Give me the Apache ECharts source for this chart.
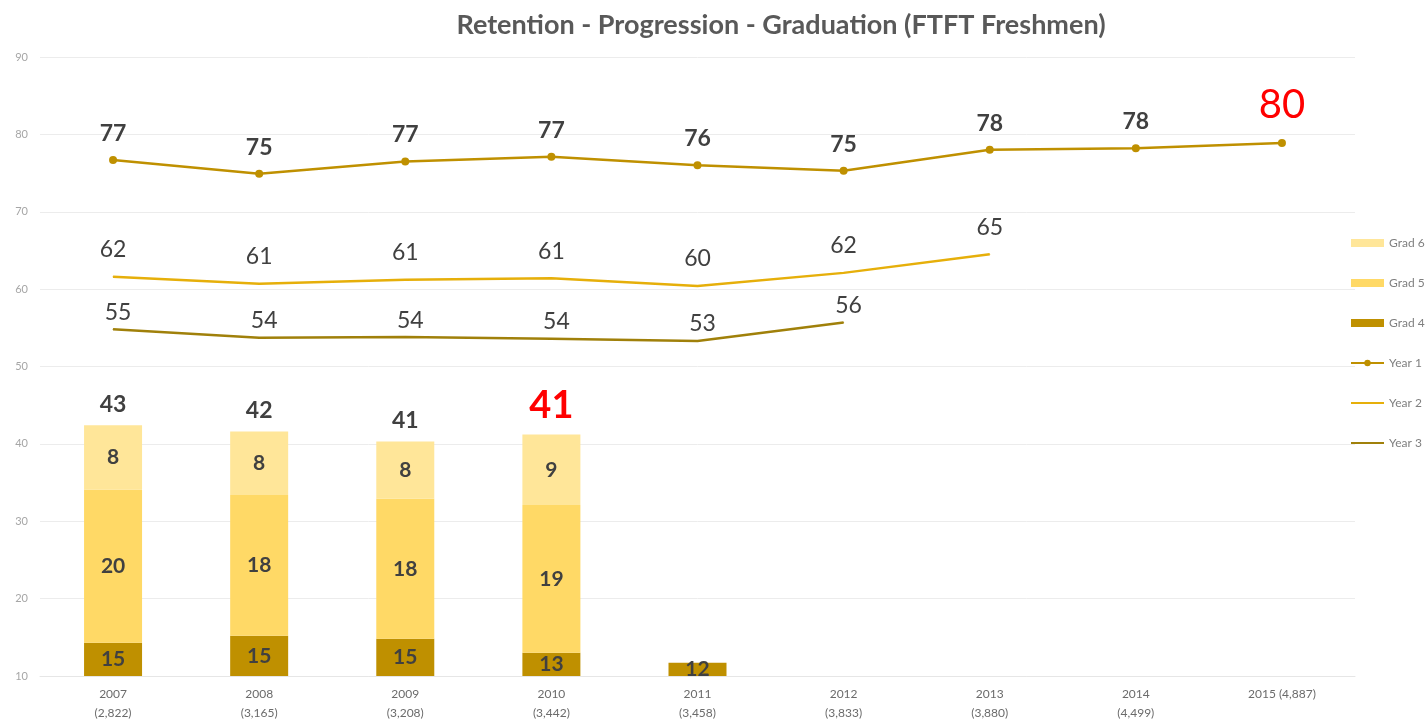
<!DOCTYPE html>
<html>
<head>
<meta charset="utf-8">
<script src="https://cdn.jsdelivr.net/npm/echarts@6/dist/echarts.min.js"></script>
<style>
	html, body { margin: 0; padding: 0; background: #fff; }
	#chart { width: 1428px; height: 723px; }
</style>
</head>
<body>
<div id="chart"></div>
<script>
// 类目（年份 + 人数）
var years = ['2007\n(2,822)', '2008\n(3,165)', '2009\n(3,208)', '2010\n(3,442)', '2011\n(3,458)',
	'2012\n(3,833)', '2013\n(3,880)', '2014\n(4,499)', '2015 (4,887)'];

// 毕业率 柱子
var grad4 = [14.3, 15.2, 14.8, 13.0, 11.7];
var grad5 = [19.8, 18.2, 18.1, 19.1];
var grad6 = [8.3, 8.2, 7.4, 9.1];
var grad4Labels = [15, 15, 15, 13, 12];
var grad5Labels = [20, 18, 18, 19];
var grad6Labels = [8, 8, 8, 9];
var gradTotals = [43, 42, 41, 41];

// 保留率 折线
var year1 = [76.7, 74.9, 76.5, 77.1, 76.0, 75.3, 78.0, 78.2, 78.9];
var year2 = [61.6, 60.7, 61.2, 61.4, 60.4, 62.1, 64.5];
var year3 = [54.8, 53.7, 53.8, 53.6, 53.3, 55.7];
var year1Labels = [77, 75, 77, 77, 76, 75, 78, 78, 80];
var year2Labels = [62, 61, 61, 61, 60, 62, 65];
var year3Labels = [55, 54, 54, 54, 53, 56];

var yTicks = [10, 20, 30, 40, 50, 60, 70, 80, 90];

(function(){
	var font = 'Lato',
		dark = '#404040',
		red = '#FF0000';

	function fromLabels(labels){
		return function(p){ return labels[p.dataIndex]; };
	}
	var innerLabel = {
		show: true, position: 'inside', fontFamily: font,
		fontSize: 21, fontWeight: 'bold', color: dark
	};

	// 总数标签：叠在最上面的 0 高度柱
	var totalData = gradTotals.map(function(v, i){
		var item = { value: 0 };
		if (i === 3) {
			item.label = { color: red, fontSize: 38, distance: 10 };
		}
		return item;
	});
	var year1Data = year1.map(function(v, i){
		var item = { value: v };
		if (i === 8) {
			item.label = { color: red, fontSize: 40, fontWeight: 'normal', distance: 14 };
		}
		return item;
	});

	var option = {
		backgroundColor: '#fff',
		animation: false,
		title: {
			text: 'Retention - Progression - Graduation (FTFT Freshmen)',
			left: 776,
			top: 7,
			textAlign: 'center',
			textStyle: { fontFamily: font, fontSize: 27, fontWeight: 'bold', color: '#595959' }
		},
		legend: {
			orient: 'vertical',
			left: 1350,
			top: 237,
			padding: 0,
			itemWidth: 33,
			itemHeight: 8,
			itemGap: 28,
			textStyle: { fontFamily: font, fontSize: 12, color: '#7f7f7f' },
			data: [
				{ name: 'Grad 6', icon: 'rect' },
				{ name: 'Grad 5', icon: 'rect' },
				{ name: 'Grad 4', icon: 'rect' },
				{ name: 'Year 1' },
				{ name: 'Year 2', itemStyle: { opacity: 0 } },
				{ name: 'Year 3', itemStyle: { opacity: 0 } }
			]
		},
		grid: { left: 40, right: 73, top: 57, bottom: 43 },
		xAxis: {
			type: 'category',
			data: years,
			axisLine: { show: true, lineStyle: { color: '#e6e6e6' } },
			axisTick: { show: false },
			axisLabel: {
				margin: 9, fontFamily: font, fontSize: 12, color: '#6b6b6b', lineHeight: 19
			}
		},
		yAxis: {
			type: 'value',
			min: yTicks[0],
			max: yTicks[yTicks.length - 1],
			interval: 10,
			axisLine: { show: false },
			axisTick: { show: false },
			axisLabel: { margin: 12, fontFamily: font, fontSize: 11, color: '#a6a6a6' },
			splitLine: { lineStyle: { color: '#ececec' } }
		},
		series: [{
			name: 'Grad 4', type: 'bar', stack: 'grad', barWidth: 58,
			itemStyle: { color: '#BF9000' },
			label: Object.assign({}, innerLabel, { formatter: fromLabels(grad4Labels) }),
			data: grad4
		}, {
			name: 'Grad 5', type: 'bar', stack: 'grad', barWidth: 58,
			itemStyle: { color: '#FFD966' },
			label: Object.assign({}, innerLabel, { formatter: fromLabels(grad5Labels) }),
			data: grad5
		}, {
			name: 'Grad 6', type: 'bar', stack: 'grad', barWidth: 58,
			itemStyle: { color: '#FFE699' },
			label: Object.assign({}, innerLabel, { formatter: fromLabels(grad6Labels) }),
			data: grad6
		}, {
			name: 'Total', type: 'bar', stack: 'grad', barWidth: 58,
			itemStyle: { color: 'transparent' },
			label: {
				show: true, position: 'top', distance: 9, fontFamily: font,
				fontSize: 23, fontWeight: 'bold', color: dark,
				formatter: fromLabels(gradTotals)
			},
			data: totalData
		}, {
			name: 'Year 1', type: 'line', z: 5,
			symbol: 'circle', symbolSize: 8,
			lineStyle: { color: '#BF9000', width: 2.5 },
			itemStyle: { color: '#BF9000' },
			label: {
				show: true, position: 'top', distance: 11, fontFamily: font,
				fontSize: 23, fontWeight: 'bold', color: dark,
				formatter: fromLabels(year1Labels)
			},
			data: year1Data
		}, {
			name: 'Year 2', type: 'line', z: 5,
			symbol: 'circle', symbolSize: 1,
			lineStyle: { color: '#E6AF0A', width: 2.5 },
			itemStyle: { color: '#E6AF0A' },
			label: {
				show: true, position: 'top', distance: 15, fontFamily: font,
				fontSize: 23, color: dark,
				formatter: fromLabels(year2Labels)
			},
			data: year2
		}, {
			name: 'Year 3', type: 'line', z: 5,
			symbol: 'circle', symbolSize: 1,
			lineStyle: { color: '#A0800A', width: 2.5 },
			itemStyle: { color: '#A0800A' },
			label: {
				show: true, position: 'top', distance: 5, offset: [5, 0], fontFamily: font,
				fontSize: 23, color: dark,
				formatter: fromLabels(year3Labels)
			},
			data: year3
		}]
	};

	var myChart = echarts.init(document.getElementById('chart'));
	myChart.setOption(option);
})();
</script>
</body>
</html>
